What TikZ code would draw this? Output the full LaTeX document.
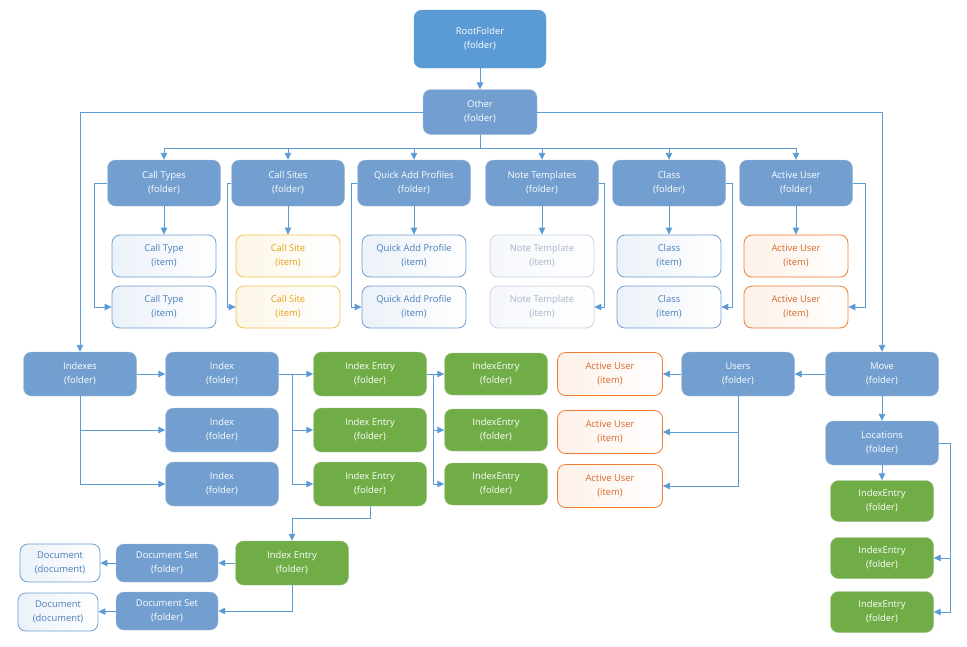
\documentclass[tikz,border=0pt]{standalone}
\usepackage{fontspec}
\setmainfont{Open Sans}
\usetikzlibrary{arrows.meta}

\definecolor{rootblue}{HTML}{5B9BD5}
\definecolor{folderblue}{HTML}{729FCF}
\definecolor{entrygreen}{HTML}{70AD47}
\definecolor{wireblue}{HTML}{5B9BD5}
\definecolor{itemblue}{HTML}{6F9FD2}
\definecolor{itemtext}{HTML}{4A7EBB}
\definecolor{sitegold}{HTML}{F2C14E}
\definecolor{sitetext}{HTML}{E3A317}
\definecolor{notegray}{HTML}{C6D3E5}
\definecolor{notetext}{HTML}{A7B5C9}
\definecolor{userorange}{HTML}{ED7D31}
\definecolor{usertext}{HTML}{D5692A}

\tikzset{
  box/.style={rounded corners=8pt, align=center, inner sep=0pt,
    font=\fontsize{9.4}{14}\selectfont},
  folder/.style={box, fill=folderblue, draw=folderblue!90!black!60, text=white,
    minimum width=113pt, minimum height=45pt},
  rootfolder/.style={folder, fill=rootblue, draw=rootblue,
    minimum width=132pt, minimum height=58pt},
  entry/.style={folder, fill=entrygreen, draw=entrygreen!90!black!60},
  item/.style={box, draw=itemblue, line width=0.8pt, text=itemtext,
    left color=itemblue!14, right color=white, minimum width=104pt, minimum height=42pt},
  siteitem/.style={item, draw=sitegold, text=sitetext, left color=sitegold!14},
  noteitem/.style={item, draw=notegray, text=notetext, left color=notegray!18},
  useritem/.style={item, draw=userorange, text=usertext, left color=userorange!11},
  conn/.style={draw=wireblue, line width=0.9pt,
    -{Triangle[length=7pt,width=6.5pt]}},
  wire/.style={draw=wireblue, line width=0.9pt}
}

\begin{document}
\begin{tikzpicture}[x=1pt,y=-1pt]
  \useasboundingbox (0,0) rectangle (967,646);

  % top
  \node[rootfolder] (root) at (480,39) {RootFolder\\(folder)};
  \node[folder, minimum width=114pt] (other) at (480,112) {Other\\(folder)};
  \draw[conn] (root) -- (other);
  \coordinate (bus) at (480,148);
  \draw[wire] (other.south) -- (bus);

  % folders with two items each
  \foreach \name/\x/\label/\sub/\kind in {
      calltypes/164/Call Types/Call Type/item,
      callsites/288/Call Sites/Call Site/siteitem,
      quickadd/414/Quick Add Profiles/Quick Add Profile/item,
      notetpl/542/Note Templates/Note Template/noteitem,
      class/669/Class/Class/item,
      activeuser/796/Active User/Active User/useritem} {
    \node[folder, minimum height=46pt] (\name) at (\x,183) {\label\\(folder)};
    \node[\kind] (\name-1) at (\x,256) {\sub\\(item)};
    \node[\kind] (\name-2) at (\x,307) {\sub\\(item)};
    \draw[conn] (bus) -| (\name.north);
    \draw[conn] (\name.south) -- (\name-1.north);
  }
  \draw[conn] (calltypes.west) -- ++(-13,0) |- (calltypes-2.west);
  \draw[conn] (callsites.west) -- ++(-4,0) |- (callsites-2.west);
  \draw[conn] (quickadd.west) -- ++(-6,0) |- (quickadd-2.west);
  \draw[conn] (notetpl.east) -- ++(6,0) |- (notetpl-2.east);
  \draw[conn] (class.east) -- ++(7,0) |- (class-2.east);
  \draw[conn] (activeuser.east) -- ++(13,0) |- (activeuser-2.east);

  % indexes
  \node[folder, minimum height=44pt] (indexes) at (80,374) {Indexes\\(folder)};
  \foreach \i/\y in {1/374,2/430,3/484} {
    \node[folder, minimum height=44pt] (index-\i) at (222,\y) {Index\\(folder)};
    \node[entry, minimum height=44pt] (ie-\i) at (370,\y) {Index Entry\\(folder)};
    \node[entry, minimum width=103pt, minimum height=42pt] (ien-\i) at (496,\y)
      {IndexEntry\\(folder)};
  }
  \draw[conn] (other.west) -| (indexes.north);
  \draw[conn] (indexes) -- (index-1);
  \draw[conn] (indexes.south) |- (index-2.west);
  \draw[conn] (indexes.south) |- (index-3.west);
  \draw[conn] (index-1) -- (ie-1);
  \coordinate (split1) at (292,374);
  \draw[conn] (split1) |- (ie-2.west);
  \draw[conn] (split1) |- (ie-3.west);
  \draw[conn] (ie-1) -- (ien-1);
  \coordinate (split2) at (433,374);
  \draw[conn] (split2) |- (ien-2.west);
  \draw[conn] (split2) |- (ien-3.west);

  % documents
  \node[entry, minimum height=44pt] (ie-4) at (292,563) {Index Entry\\(folder)};
  \node[folder, minimum width=102pt, minimum height=38pt] (docset-1) at (167,563)
    {Document Set\\(folder)};
  \node[folder, minimum width=102pt, minimum height=38pt] (docset-2) at (167,611)
    {Document Set\\(folder)};
  \node[item, minimum width=80pt, minimum height=38pt] (doc-1) at (60,563)
    {Document\\(document)};
  \node[item, minimum width=80pt, minimum height=38pt] (doc-2) at (58,612)
    {Document\\(document)};
  \draw[conn] (ie-3.south) -- ++(0,12) -| (ie-4.north);
  \draw[conn] (ie-4) -- (docset-1);
  \draw[conn] (ie-4.south) |- (docset-2.east);
  \draw[conn] (docset-1) -- (doc-1);
  \draw[conn] (docset-2) -- (doc-2);

  % move / users
  \node[folder, minimum height=44pt] (move) at (882,374) {Move\\(folder)};
  \node[folder, minimum height=44pt] (users) at (738,374) {Users\\(folder)};
  \foreach \i/\y in {1/374,2/432,3/486}
    \node[useritem, minimum width=105pt, minimum height=43pt] (uau-\i) at (610,\y)
      {Active User\\(item)};
  \draw[conn] (other.east) -| (move.north);
  \draw[conn] (move) -- (users);
  \draw[conn] (users) -- (uau-1);
  \draw[conn] (users.south) |- (uau-2.east);
  \draw[conn] (users.south) |- (uau-3.east);

  % locations
  \node[folder, minimum height=44pt] (locations) at (882,443) {Locations\\(folder)};
  \foreach \i/\y in {1/501,2/558,3/612}
    \node[entry, minimum width=103pt, minimum height=41pt] (lie-\i) at (882,\y)
      {IndexEntry\\(folder)};
  \draw[conn] (move) -- (locations);
  \draw[conn] (locations) -- (lie-1);
  \draw[conn] (locations.east) -- ++(12,0) |- (lie-2.east);
  \draw[conn] (locations.east) -- ++(12,0) |- (lie-3.east);
\end{tikzpicture}
\end{document}
